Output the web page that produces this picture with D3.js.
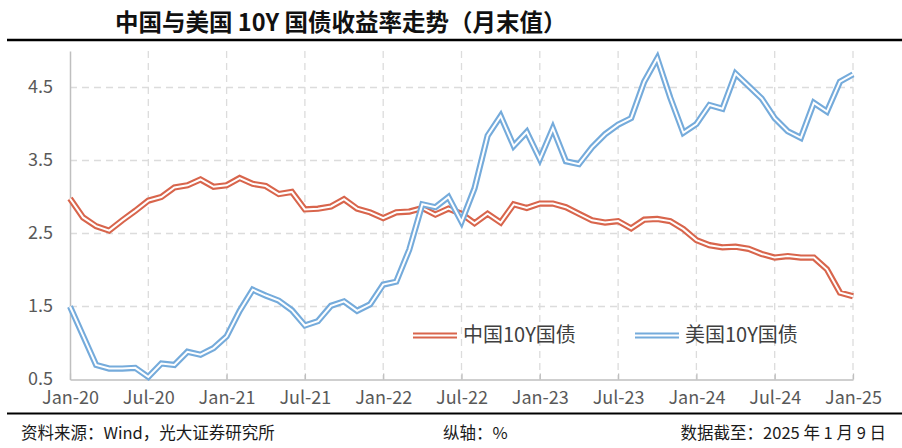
<!DOCTYPE html>
<html>
<head>
<meta charset="utf-8">
<script src="https://cdn.jsdelivr.net/npm/d3@7"></script>
<style>
  body {margin: 0; background: #fff;}
  text {font-family: "Noto Sans CJK SC", "Noto Sans", sans-serif;}
</style>
</head>
<body>
<div id="chart"></div>
<script>
// month-end 10Y yields, Jan-20 .. Jan-25 (last point = 2025-01-09)
var china_10y = [2.98,2.72,2.60,2.54,2.68,2.81,2.95,3.00,3.13,3.16,3.24,3.14,
  3.16,3.26,3.18,3.15,3.04,3.07,2.83,2.84,2.87,2.97,2.84,2.79,
  2.71,2.79,2.80,2.85,2.76,2.84,2.77,2.64,2.77,2.65,2.90,2.85,
  2.91,2.91,2.86,2.77,2.68,2.65,2.67,2.57,2.69,2.70,2.67,2.56,
  2.41,2.34,2.31,2.32,2.29,2.22,2.17,2.19,2.17,2.17,2.01,1.69,1.64];
var us_10y = [1.50,1.10,0.70,0.65,0.65,0.66,0.535,0.72,0.70,0.88,0.84,0.93,
  1.09,1.44,1.73,1.65,1.58,1.45,1.24,1.30,1.51,1.57,1.44,1.53,
  1.80,1.84,2.28,2.90,2.86,3.00,2.66,3.12,3.84,4.11,3.70,3.89,
  3.52,3.94,3.49,3.45,3.68,3.86,3.99,4.08,4.58,4.90,4.36,3.88,
  4.00,4.26,4.21,4.69,4.52,4.35,4.08,3.90,3.81,4.29,4.17,4.58,4.68];
var x_tick_labels = ['Jan-20','Jul-20','Jan-21','Jul-21','Jan-22','Jul-22',
  'Jan-23','Jul-23','Jan-24','Jul-24','Jan-25'];
var y_ticks = [0.5, 1.5, 2.5, 3.5, 4.5];
var series_names = ['中国10Y国债', '美国10Y国债'];

var color_cn = '#d8654c', color_us = '#75abdb';

// sizes
var width = 902, height = 448,
    plot = {left: 70, right: 853, top: 51, bottom: 379.5};

// scales
var x = d3.scaleLinear().domain([0, china_10y.length - 1]).range([plot.left, plot.right]),
    y = d3.scaleLinear().domain([0.5, 5.0]).range([plot.bottom, plot.top]);

var svg = d3.select('#chart').append('svg')
    .attr('width', width)
    .attr('height', height);

// title
svg.append('text')
    .attr('x', 115).attr('y', 31)
    .style('font-size', '23.5px').style('font-weight', 'bold')
    .attr('fill', '#111')
    .text('中国与美国 10Y 国债收益率走势（月末值）');

svg.append('line')
    .attr('x1', 7).attr('x2', width).attr('y1', 40).attr('y2', 40)
    .attr('stroke', '#000').attr('stroke-width', 2.4);

// grid
var grid = svg.append('g').attr('class', 'grid');
var x_ticks = d3.range(0, china_10y.length, 6);
grid.selectAll('.vgrid').data(x_ticks.slice(1)).enter().append('line')
    .attr('x1', d => x(d)).attr('x2', d => x(d))
    .attr('y1', plot.top).attr('y2', plot.bottom)
    .attr('stroke', '#dcdcdc').attr('stroke-width', 1.3)
    .attr('stroke-dasharray', '7,5');
grid.selectAll('.hgrid').data(y_ticks.slice(1)).enter().append('line')
    .attr('x1', plot.left).attr('x2', plot.right)
    .attr('y1', d => y(d)).attr('y2', d => y(d))
    .attr('stroke', '#dcdcdc').attr('stroke-width', 1.3)
    .attr('stroke-dasharray', '7,5');

// axes
var y_axis = d3.axisLeft(y).tickValues(y_ticks).tickFormat(d3.format('.1f'))
    .tickSize(0).tickPadding(17);
var x_axis = d3.axisBottom(x).tickValues(x_ticks)
    .tickFormat((d, i) => x_tick_labels[i])
    .tickSizeInner(-6).tickSizeOuter(0).tickPadding(12);

var gy = svg.append('g').attr('transform', 'translate(' + plot.left + ',0)').call(y_axis);
var gx = svg.append('g').attr('transform', 'translate(0,' + plot.bottom + ')').call(x_axis);
[gx, gy].forEach(function(g) {
  g.select('.domain').attr('stroke', '#bfbfbf').attr('stroke-width', 1.5);
  g.selectAll('.tick line').attr('stroke', '#bfbfbf').attr('stroke-width', 1.3);
  g.selectAll('.tick text').attr('fill', '#595959')
      .style('font-size', '18px').style('font-family', '"Noto Sans CJK SC", sans-serif');
});
gy.selectAll('.tick text').attr('dy', '0.3em');

// double lines
var line = d3.line().x((d, i) => x(i)).y(d => y(d));
function double_path(g, d, color) {
  g.append('path').attr('d', d).attr('fill', 'none')
      .attr('stroke', color).attr('stroke-width', 6.2).attr('stroke-linejoin', 'miter');
  g.append('path').attr('d', d).attr('fill', 'none')
      .attr('stroke', '#fff').attr('stroke-width', 2).attr('stroke-linejoin', 'miter');
}
var lines = svg.append('g');
double_path(lines, line(china_10y), color_cn);
double_path(lines, line(us_10y), color_us);

// legend
var legend = svg.append('g');
[[413, color_cn, series_names[0]], [635, color_us, series_names[1]]].forEach(function(l) {
  double_path(legend, 'M' + l[0] + ',335.5H' + (l[0] + 44), l[1]);
  legend.append('text')
      .attr('x', l[0] + 50).attr('y', 335).attr('dy', '0.35em')
      .attr('fill', '#404040').style('font-size', '20px')
      .text(l[2]);
});

// footer
svg.append('line')
    .attr('x1', 7).attr('x2', width).attr('y1', 413.5).attr('y2', 413.5)
    .attr('stroke', '#000').attr('stroke-width', 2.2);
var footer = svg.append('g').style('font-size', '16.5px').attr('fill', '#1a1a1a');
footer.append('text').attr('x', 21).attr('y', 439).text('资料来源：Wind，光大证券研究所');
footer.append('text').attr('x', 443).attr('y', 439).text('纵轴：%');
footer.append('text').attr('x', 886).attr('y', 439).attr('text-anchor', 'end')
    .text('数据截至：2025 年 1 月 9 日');
</script>
</body>
</html>
